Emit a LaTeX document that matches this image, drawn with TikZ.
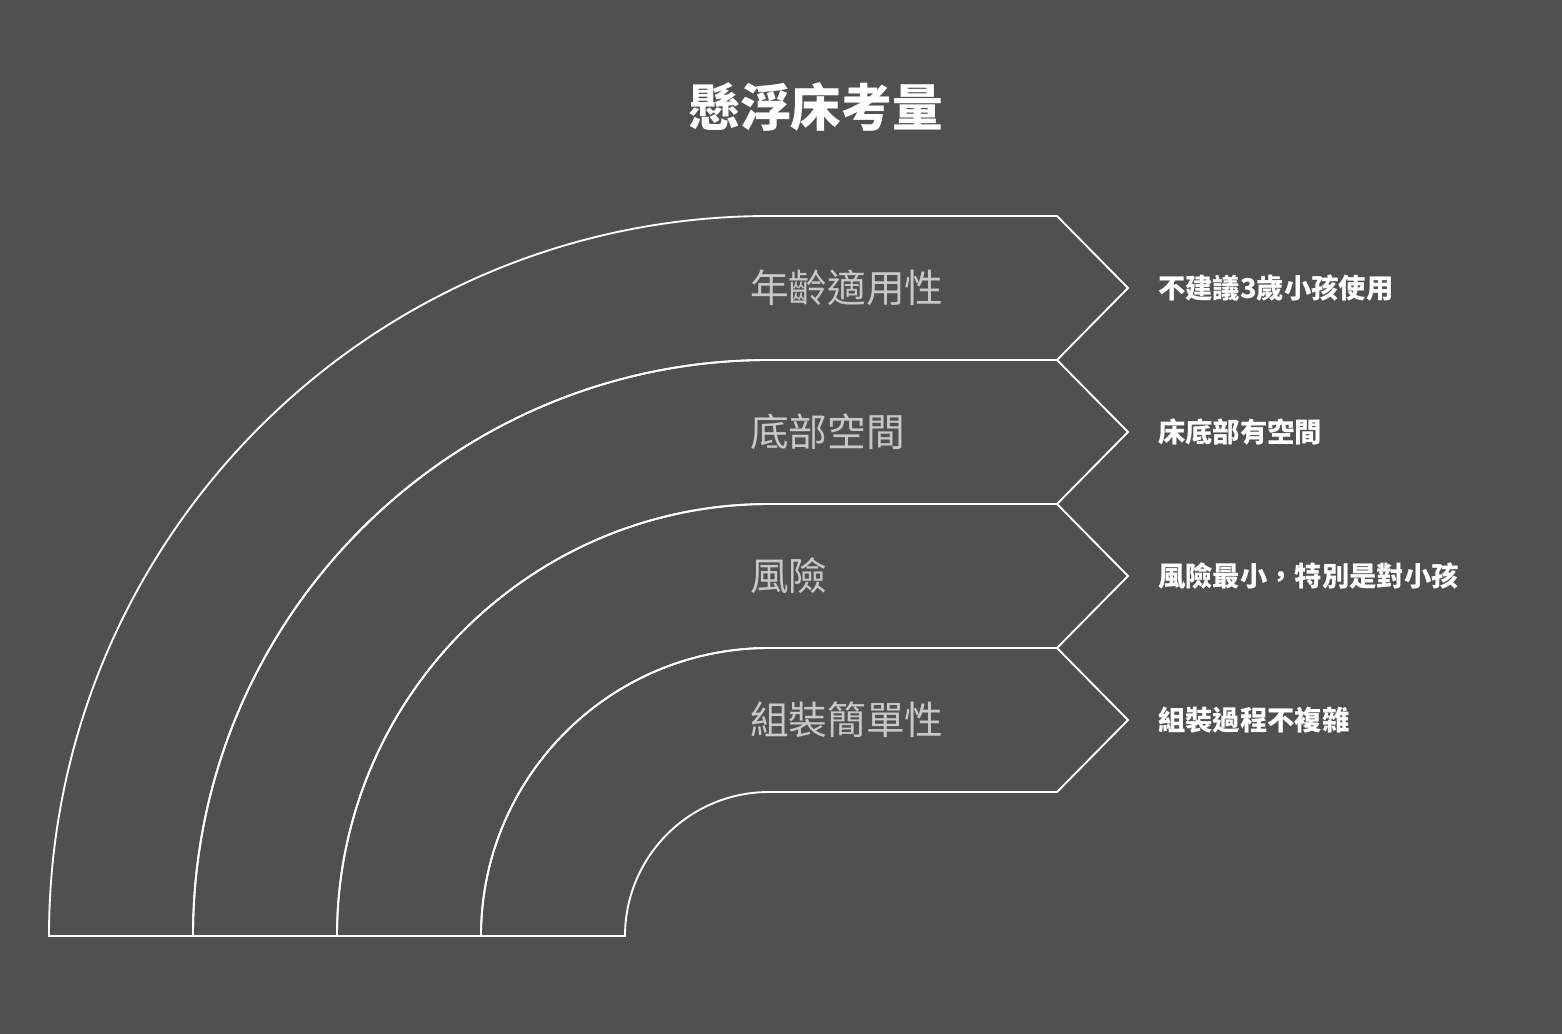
\documentclass[tikz,border=0pt]{standalone}
\usepackage{fontspec}
\setmainfont{Noto Sans CJK TC}
\begin{document}
\begin{tikzpicture}[x=0.75pt,y=-0.75pt,
  band/.style={draw=white,line width=1.4pt,line join=miter},
  lab/.style={anchor=west,text=labgray,font=\fontsize{29}{32}\selectfont,inner sep=0},
  desc/.style={anchor=west,text=white,font=\bfseries\fontsize{20.5}{24}\selectfont,inner sep=0}]
\definecolor{bg}{HTML}{505050}
\definecolor{labgray}{HTML}{C8C8C8}
\fill[bg] (0,0) rectangle (1562,1034);
\useasboundingbox (0,0) rectangle (1562,1034);
\node[text=white,font=\bfseries\fontsize{38}{42}\selectfont] (title) at (816,107) {懸浮床考量};
\foreach \R in {720,576,432,288}{
  \pgfmathsetmacro{\r}{\R-144}
  \pgfmathsetmacro{\m}{936-\R+72}
  \draw[band] (769-\R,936) arc[start angle=180,end angle=90,x radius=\R*0.75pt,y radius=\R*0.75pt]
    -- (1057,936-\R) -- (1128,\m) -- (1057,936-\r) -- (769,936-\r)
    arc[start angle=90,end angle=180,x radius=\r*0.75pt,y radius=\r*0.75pt] -- cycle;
}
\node[lab] (l1) at (750,288) {年齡適用性};
\node[lab] (l2) at (750,432) {底部空間};
\node[lab] (l3) at (750,576) {風險};
\node[lab] (l4) at (750,720) {組裝簡單性};
\node[desc] (d1) at (1158,288) {不建議3歲小孩使用};
\node[desc] (d2) at (1158,432) {床底部有空間};
\node[desc] (d3) at (1158,576) {風險最小，特別是對小孩};
\node[desc] (d4) at (1158,720) {組裝過程不複雜};
\end{tikzpicture}
\end{document}
